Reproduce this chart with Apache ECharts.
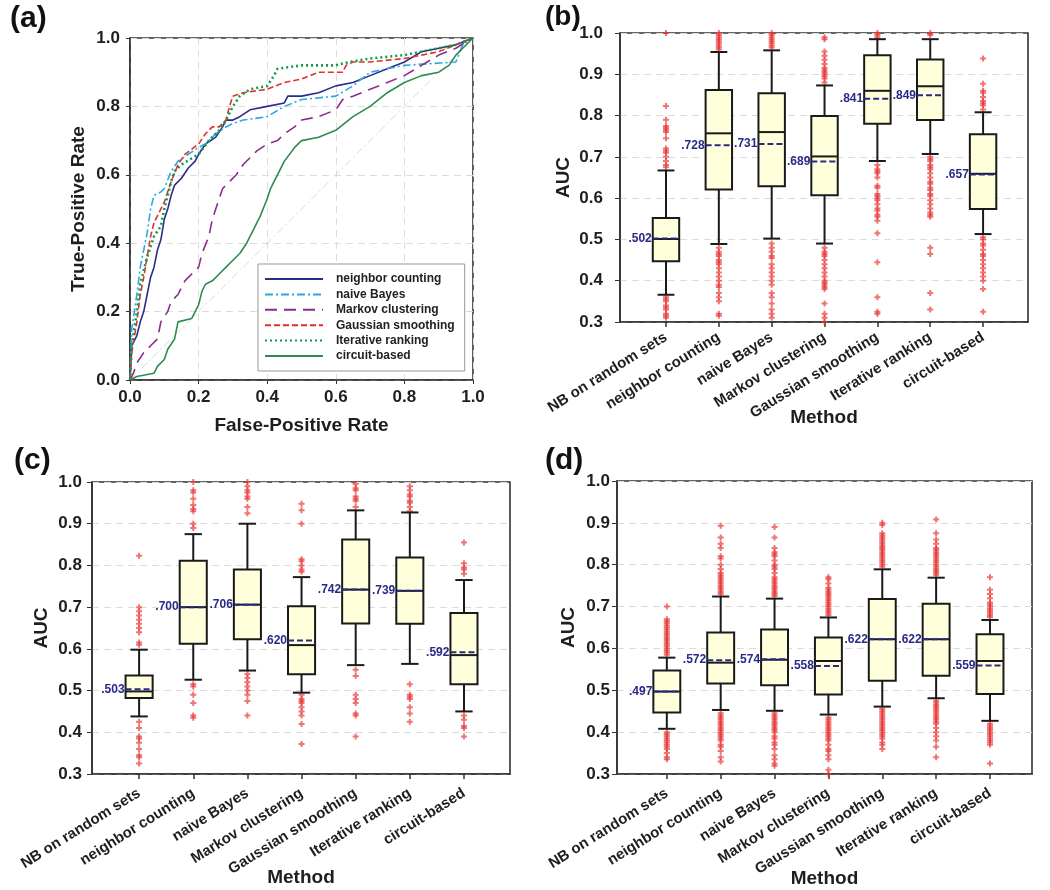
<!DOCTYPE html>
<html>
<head>
<meta charset="utf-8">
<script src="https://cdn.jsdelivr.net/npm/echarts@6/dist/echarts.min.js"></script>
<style>
html,body{margin:0;padding:0;background:#fff;}
#chart{width:1050px;height:890px;}
</style>
</head>
<body>
<div id="chart"></div>
<script>
// ---------- DATA ----------
const methods = ['NB on random sets','neighbor counting','naive Bayes','Markov clustering','Gaussian smoothing','Iterative ranking','circuit-based'];
const rocNames = ['neighbor counting','naive Bayes','Markov clustering','Gaussian smoothing','Iterative ranking','circuit-based'];

const rocNeighbor = [[0,0],[0.005,0.1],[0.02,0.13],[0.03,0.17],[0.04,0.2],[0.05,0.25],[0.06,0.3],[0.07,0.33],[0.08,0.38],[0.09,0.41],[0.1,0.47],[0.11,0.5],[0.12,0.54],[0.13,0.57],[0.15,0.59],[0.17,0.62],[0.19,0.64],[0.2,0.66],[0.22,0.69],[0.25,0.71],[0.27,0.74],[0.28,0.76],[0.3,0.76],[0.32,0.77],[0.35,0.79],[0.4,0.8],[0.45,0.81],[0.46,0.83],[0.5,0.83],[0.55,0.84],[0.6,0.86],[0.65,0.87],[0.7,0.89],[0.75,0.91],[0.8,0.93],[0.85,0.96],[0.9,0.97],[0.95,0.98],[1,1]];
const rocBayes = [[0,0],[0.005,0.15],[0.02,0.25],[0.03,0.33],[0.04,0.38],[0.05,0.43],[0.06,0.5],[0.07,0.54],[0.09,0.55],[0.1,0.56],[0.12,0.61],[0.14,0.64],[0.17,0.66],[0.2,0.68],[0.22,0.69],[0.25,0.72],[0.28,0.74],[0.3,0.75],[0.33,0.76],[0.4,0.77],[0.45,0.8],[0.5,0.82],[0.6,0.83],[0.65,0.86],[0.7,0.9],[0.8,0.92],[0.95,0.93],[0.97,0.98],[1,1]];
const rocMarkov = [[0,0],[0.01,0.02],[0.02,0.05],[0.04,0.08],[0.06,0.1],[0.08,0.12],[0.09,0.17],[0.11,0.2],[0.12,0.23],[0.14,0.25],[0.16,0.29],[0.18,0.31],[0.2,0.33],[0.21,0.37],[0.23,0.42],[0.24,0.47],[0.25,0.5],[0.27,0.56],[0.29,0.58],[0.31,0.6],[0.33,0.63],[0.35,0.65],[0.37,0.67],[0.4,0.69],[0.43,0.7],[0.45,0.72],[0.48,0.74],[0.5,0.76],[0.55,0.77],[0.6,0.79],[0.62,0.82],[0.65,0.83],[0.7,0.85],[0.75,0.87],[0.8,0.89],[0.85,0.92],[0.9,0.95],[0.95,0.97],[1,1]];
const rocGauss = [[0,0],[0.005,0.08],[0.02,0.17],[0.03,0.25],[0.04,0.3],[0.05,0.36],[0.06,0.42],[0.07,0.46],[0.08,0.48],[0.1,0.52],[0.12,0.58],[0.14,0.63],[0.16,0.66],[0.2,0.69],[0.22,0.72],[0.24,0.74],[0.26,0.74],[0.28,0.76],[0.29,0.8],[0.3,0.83],[0.33,0.84],[0.4,0.85],[0.45,0.87],[0.5,0.88],[0.55,0.9],[0.62,0.9],[0.63,0.92],[0.65,0.93],[0.7,0.93],[0.8,0.94],[0.85,0.95],[0.9,0.96],[0.95,0.98],[1,1]];
const rocIter = [[0,0],[0.005,0.1],[0.02,0.2],[0.03,0.28],[0.05,0.36],[0.07,0.42],[0.09,0.45],[0.1,0.5],[0.12,0.58],[0.13,0.61],[0.15,0.63],[0.2,0.66],[0.23,0.7],[0.26,0.73],[0.28,0.76],[0.3,0.8],[0.32,0.83],[0.35,0.85],[0.4,0.86],[0.42,0.89],[0.43,0.91],[0.5,0.92],[0.6,0.92],[0.64,0.93],[0.7,0.94],[0.8,0.95],[0.9,0.97],[0.95,0.98],[1,1]];
const rocCircuit = [[0,0],[0.02,0.01],[0.07,0.02],[0.08,0.04],[0.1,0.06],[0.11,0.09],[0.13,0.12],[0.14,0.17],[0.18,0.18],[0.2,0.22],[0.21,0.26],[0.22,0.28],[0.24,0.29],[0.26,0.31],[0.28,0.33],[0.3,0.35],[0.32,0.37],[0.34,0.4],[0.36,0.44],[0.38,0.48],[0.4,0.53],[0.41,0.56],[0.43,0.6],[0.45,0.64],[0.48,0.68],[0.5,0.7],[0.55,0.71],[0.6,0.73],[0.65,0.77],[0.7,0.8],[0.75,0.84],[0.8,0.87],[0.85,0.89],[0.9,0.9],[0.93,0.92],[0.95,0.95],[0.97,0.97],[1,1]];
const rocDiagonal = [[0,0],[1,1]];

// box stats: [lower whisker, Q1, median, Q3, upper whisker]
const statsB = [[0.366,0.447,0.501,0.552,0.667],[0.489,0.621,0.757,0.862,0.954],[0.502,0.629,0.760,0.854,0.958],[0.490,0.607,0.701,0.799,0.873],[0.690,0.780,0.860,0.946,0.985],[0.707,0.789,0.871,0.936,0.985],[0.513,0.574,0.659,0.755,0.808]];
const meansB = [0.502,0.728,0.731,0.689,0.841,0.849,0.657];
const labelsB = ['.502','.728','.731','.689','.841','.849','.657'];
const outB = [
 [1.0,0.823,0.79,0.775,0.77,0.765,0.76,0.745,0.72,0.715,0.71,0.70,0.69,0.68,0.675,0.36,0.355,0.35,0.34,0.335,0.33,0.32,0.315,0.31],
 [0.96,0.965,0.97,0.975,0.98,0.985,0.99,0.995,1.0,0.48,0.47,0.465,0.46,0.45,0.445,0.44,0.43,0.42,0.41,0.40,0.39,0.385,0.37,0.36,0.35,0.32,0.315],
 [0.965,0.97,0.975,0.98,0.985,0.99,0.995,1.0,0.49,0.48,0.47,0.46,0.455,0.44,0.43,0.42,0.41,0.40,0.39,0.37,0.36,0.345,0.33,0.32,0.31],
 [0.99,0.985,0.955,0.945,0.935,0.925,0.915,0.91,0.905,0.90,0.895,0.89,0.88,0.48,0.47,0.465,0.46,0.45,0.44,0.43,0.42,0.41,0.40,0.395,0.39,0.385,0.38,0.345,0.32,0.31,0.30],
 [0.99,0.995,1.0,0.68,0.67,0.665,0.66,0.65,0.63,0.625,0.61,0.605,0.60,0.595,0.585,0.575,0.57,0.56,0.555,0.545,0.515,0.445,0.36,0.325,0.32],
 [0.995,1.0,0.70,0.695,0.69,0.68,0.675,0.67,0.66,0.65,0.64,0.635,0.625,0.62,0.61,0.605,0.595,0.585,0.575,0.565,0.56,0.555,0.48,0.465,0.37,0.33],
 [0.938,0.877,0.86,0.855,0.845,0.835,0.83,0.825,0.815,0.505,0.50,0.49,0.485,0.475,0.465,0.46,0.45,0.44,0.43,0.42,0.41,0.40,0.38,0.325]
];

const statsC = [[0.438,0.482,0.498,0.536,0.598],[0.526,0.612,0.700,0.811,0.875],[0.548,0.623,0.706,0.790,0.900],[0.495,0.539,0.609,0.702,0.772],[0.561,0.661,0.742,0.862,0.932],[0.564,0.660,0.739,0.819,0.927],[0.450,0.515,0.585,0.686,0.765]];
const meansC = [0.503,0.700,0.706,0.620,0.742,0.739,0.592];
const labelsC = ['.503','.700','.706','.620','.742','.739','.592'];
const outC = [
 [0.823,0.70,0.69,0.68,0.67,0.66,0.65,0.64,0.615,0.61,0.425,0.41,0.39,0.385,0.375,0.36,0.345,0.34,0.325],
 [1.0,0.98,0.975,0.96,0.945,0.935,0.93,0.90,0.89,0.515,0.51,0.49,0.47,0.44,0.435],
 [1.0,0.99,0.98,0.975,0.965,0.96,0.94,0.925,0.54,0.53,0.52,0.51,0.50,0.49,0.475,0.44],
 [0.948,0.932,0.90,0.815,0.81,0.80,0.79,0.785,0.49,0.48,0.475,0.47,0.46,0.45,0.44,0.42,0.372],
 [0.995,0.985,0.98,0.965,0.96,0.955,0.94,0.55,0.535,0.49,0.48,0.47,0.445,0.44,0.39],
 [0.99,0.98,0.97,0.965,0.955,0.95,0.94,0.93,0.515,0.49,0.485,0.48,0.46,0.445,0.425],
 [0.855,0.805,0.795,0.79,0.78,0.44,0.43,0.415,0.41,0.39]
];

const statsD = [[0.408,0.447,0.497,0.547,0.578],[0.453,0.516,0.566,0.638,0.724],[0.451,0.512,0.573,0.645,0.719],[0.442,0.490,0.570,0.626,0.674],[0.461,0.523,0.622,0.718,0.789],[0.481,0.535,0.622,0.707,0.769],[0.427,0.491,0.570,0.634,0.668]];
const meansD = [0.497,0.572,0.574,0.558,0.622,0.622,0.559];
const labelsD = ['.497','.572','.574','.558','.622','.622','.559'];
const outD = [
 [0.70,0.67,0.665,0.66,0.655,0.65,0.645,0.64,0.635,0.63,0.625,0.62,0.615,0.61,0.605,0.60,0.595,0.59,0.585,0.40,0.395,0.39,0.385,0.38,0.375,0.37,0.365,0.36,0.35,0.34,0.335],
 [0.893,0.865,0.85,0.84,0.82,0.815,0.80,0.79,0.78,0.775,0.77,0.765,0.76,0.755,0.75,0.745,0.74,0.735,0.73,0.445,0.44,0.435,0.43,0.425,0.42,0.415,0.41,0.405,0.40,0.395,0.39,0.385,0.38,0.37,0.365,0.355,0.34,0.33],
 [0.89,0.865,0.84,0.83,0.825,0.82,0.81,0.80,0.795,0.79,0.78,0.77,0.765,0.76,0.755,0.75,0.745,0.74,0.735,0.73,0.725,0.445,0.44,0.435,0.43,0.425,0.42,0.415,0.41,0.405,0.40,0.39,0.385,0.375,0.37,0.36,0.345,0.335,0.325,0.32],
 [0.77,0.765,0.755,0.745,0.74,0.735,0.73,0.725,0.72,0.715,0.71,0.705,0.70,0.695,0.69,0.685,0.68,0.435,0.43,0.425,0.42,0.415,0.41,0.405,0.40,0.395,0.39,0.385,0.38,0.37,0.36,0.355,0.345,0.335,0.31,0.30],
 [0.90,0.895,0.875,0.87,0.865,0.86,0.855,0.85,0.845,0.84,0.835,0.83,0.825,0.82,0.815,0.81,0.805,0.80,0.795,0.455,0.45,0.445,0.44,0.435,0.43,0.425,0.42,0.415,0.41,0.405,0.40,0.395,0.39,0.385,0.375,0.37,0.36],
 [0.908,0.875,0.86,0.85,0.84,0.835,0.83,0.825,0.82,0.815,0.81,0.805,0.80,0.795,0.79,0.785,0.78,0.775,0.475,0.47,0.465,0.46,0.455,0.45,0.445,0.44,0.435,0.43,0.425,0.42,0.41,0.40,0.39,0.38,0.365,0.34],
 [0.77,0.74,0.73,0.72,0.71,0.705,0.70,0.695,0.69,0.685,0.68,0.675,0.42,0.415,0.41,0.405,0.40,0.395,0.39,0.385,0.38,0.375,0.37,0.325]
];
const catIdx = [0,1,2,3,4,5,6];

// ---------- STYLE ----------
const FONT = '"Liberation Sans", Arial, Helvetica, sans-serif';
const DARK = '#1e1e1e';
const NAVY = '#2a2a86';
const gridStyle = {show:true, borderColor:'#333', borderWidth:1.6, backgroundColor:'#fff', containLabel:false, outerBoundsMode:'none'};
const splitDash = {show:true, lineStyle:{color:'#dcdcdc', type:[7,5], width:1}};

function rateAxis(idx, name, gap, isY){
  return {
    type:'value', gridIndex:idx, min:0, max:1, interval:0.2,
    name:name, nameLocation:'middle', nameGap:gap,
    nameTextStyle:{fontFamily:FONT, fontWeight:'bold', fontSize:19, color:DARK},
    axisLine:{show:true, onZero:false, lineStyle:{color:'#333', width:1.6}},
    axisTick:{show:true, length:4, lineStyle:{color:'#333'}},
    axisLabel:{fontFamily:FONT, fontWeight:'bold', fontSize:17, color:DARK, margin:isY?10:9, formatter:v=>v.toFixed(1)},
    splitLine:splitDash
  };
}
function aucAxis(idx, gap, margin){
  return {
    type:'value', gridIndex:idx, min:0.3, max:1.0, interval:0.1,
    name:'AUC', nameLocation:'middle', nameGap:gap,
    nameTextStyle:{fontFamily:FONT, fontWeight:'bold', fontSize:19, color:DARK},
    axisLine:{show:true, onZero:false, lineStyle:{color:'#333', width:1.6}},
    axisTick:{show:true, length:5, lineStyle:{color:'#333'}},
    axisLabel:{fontFamily:FONT, fontWeight:'bold', fontSize:17, color:DARK, margin:margin, formatter:v=>v.toFixed(1)},
    splitLine:splitDash
  };
}
function methodAxis(idx, mn, mx, gap, margin){
  return {
    type:'value', gridIndex:idx, min:mn, max:mx,
    name:'Method', nameLocation:'middle', nameGap:gap, nameMoveOverlap:false,
    nameTextStyle:{fontFamily:FONT, fontWeight:'bold', fontSize:19, color:DARK},
    axisLine:{show:true, onZero:false, lineStyle:{color:'#333', width:1.6}},
    axisTick:{show:true, length:5, customValues:catIdx, lineStyle:{color:'#333', width:1.5}},
    axisLabel:{customValues:catIdx, rotate:32, fontFamily:FONT, fontWeight:'bold', fontSize:15, color:DARK, margin:margin,
      formatter:v=>methods[Math.round(v)] || ''},
    splitLine:{show:false}
  };
}

function boxSeries(ax, stats, means, labels){
  return {
    type:'custom', xAxisIndex:ax, yAxisIndex:ax, z:3, clip:false,
    data: stats.map((s,i)=>[i, s[0], s[1], s[2], s[3], s[4], means[i]]),
    renderItem:function(params, api){
      const x = api.value(0);
      const unit = api.size([1,0])[0];
      const bw = unit*0.5, cw = unit*0.32;
      const p = k => api.coord([x, api.value(k)]);
      const lo=p(1), q1=p(2), md=p(3), q3=p(4), hi=p(5), mn=p(6);
      const cx = lo[0];
      const ls = {stroke:'#1a1a1a', lineWidth:2};
      return {type:'group', children:[
        {type:'line', shape:{x1:cx,y1:hi[1],x2:cx,y2:q3[1]}, style:ls},
        {type:'line', shape:{x1:cx,y1:q1[1],x2:cx,y2:lo[1]}, style:ls},
        {type:'line', shape:{x1:cx-cw/2,y1:hi[1],x2:cx+cw/2,y2:hi[1]}, style:ls},
        {type:'line', shape:{x1:cx-cw/2,y1:lo[1],x2:cx+cw/2,y2:lo[1]}, style:ls},
        {type:'rect', shape:{x:cx-bw/2,y:q3[1],width:bw,height:q1[1]-q3[1]}, style:{fill:'#ffffdc', stroke:'#1a1a1a', lineWidth:2}},
        {type:'line', shape:{x1:cx-bw/2,y1:md[1],x2:cx+bw/2,y2:md[1]}, style:ls},
        {type:'line', shape:{x1:cx-bw/2,y1:mn[1],x2:cx+bw/2,y2:mn[1]}, style:{stroke:NAVY, lineWidth:2, lineDash:[6,3]}},
        {type:'text', style:{text:labels[params.dataIndex], x:cx-bw/2-1, y:mn[1], align:'right', verticalAlign:'middle', fill:NAVY, font:'bold 12px '+FONT}}
      ]};
    }
  };
}
function outlierSeries(ax, outs){
  const d = [];
  outs.forEach((arr,i)=>arr.forEach(v=>d.push([i,v])));
  return {
    type:'scatter', xAxisIndex:ax, yAxisIndex:ax, z:2, silent:true, clip:false,
    symbol:'path://M2,0H4V2H6V4H4V6H2V4H0V2H2Z', symbolSize:6,
    itemStyle:{color:'rgba(232,52,52,0.85)'},
    data:d
  };
}
function rocSeries(name, data, color, type, width){
  return {type:'line', name:name, xAxisIndex:0, yAxisIndex:0, data:data, symbol:'none', showSymbol:false,
    lineStyle:{color:color, type:type, width:width}, itemStyle:{color:color}, z:3};
}

const option = {
  animation:false,
  backgroundColor:'#fff',
  textStyle:{fontFamily:FONT},
  grid:[
    Object.assign({left:130, top:38, width:343, height:342}, gridStyle),
    Object.assign({left:620, top:33, width:408, height:289}, gridStyle),
    Object.assign({left:92, top:482, width:418, height:292}, gridStyle),
    Object.assign({left:617, top:481, width:415, height:293}, gridStyle)
  ],
  xAxis:[
    rateAxis(0,'False-Positive Rate',36,false),
    methodAxis(1,-0.87,6.85,86,14),
    methodAxis(2,-0.87,6.85,94,18),
    methodAxis(3,-0.925,6.78,95,18)
  ],
  yAxis:[
    rateAxis(0,'True-Positive Rate',42,true),
    aucAxis(1,47,17), aucAxis(2,41,10), aucAxis(3,39,7)
  ],
  legend:{
    data:rocNames, orient:'vertical', left:258, top:264, width:205,
    backgroundColor:'#fff', borderColor:'#999', borderWidth:1, padding:[9,10,9,6],
    itemWidth:58, itemHeight:10, itemGap:3.4, selectedMode:false,
    itemStyle:{opacity:0, color:'rgba(0,0,0,0)', borderWidth:0},
    textStyle:{fontFamily:FONT, fontWeight:'bold', fontSize:12, lineHeight:12, color:'#222', padding:[0,0,0,8]}
  },
  graphic:[
    {type:'text', left:10, top:4, style:{text:'(a)', font:'bold 30px '+FONT, fill:'#111'}},
    {type:'text', left:545, top:3, style:{text:'(b)', font:'bold 28px '+FONT, fill:'#111'}},
    {type:'text', left:14, top:446, style:{text:'(c)', font:'bold 30px '+FONT, fill:'#111'}},
    {type:'text', left:545, top:446, style:{text:'(d)', font:'bold 30px '+FONT, fill:'#111'}}
  ],
  series:[
    {type:'line', name:'diag', xAxisIndex:0, yAxisIndex:0, data:rocDiagonal, symbol:'none', silent:true,
      lineStyle:{color:'#d9d9d9', type:[8,3,2,3], width:1}, z:1},
    rocSeries('neighbor counting', rocNeighbor, '#2b2b8a', 'solid', 1.6),
    rocSeries('naive Bayes', rocBayes, '#2aa8e0', [8,3,2,3], 1.6),
    rocSeries('Markov clustering', rocMarkov, '#8a2d8c', [12,7], 1.6),
    rocSeries('Gaussian smoothing', rocGauss, '#e0302c', [6,3], 1.6),
    rocSeries('Iterative ranking', rocIter, '#119a4a', [2,3], 2.6),
    rocSeries('circuit-based', rocCircuit, '#2e8b50', 'solid', 1.6),
    outlierSeries(1, outB), boxSeries(1, statsB, meansB, labelsB),
    outlierSeries(2, outC), boxSeries(2, statsC, meansC, labelsC),
    outlierSeries(3, outD), boxSeries(3, statsD, meansD, labelsD)
  ]
};
const chart = echarts.init(document.getElementById('chart'), null, {renderer:'canvas'});
chart.setOption(option);
</script>
</body>
</html>
